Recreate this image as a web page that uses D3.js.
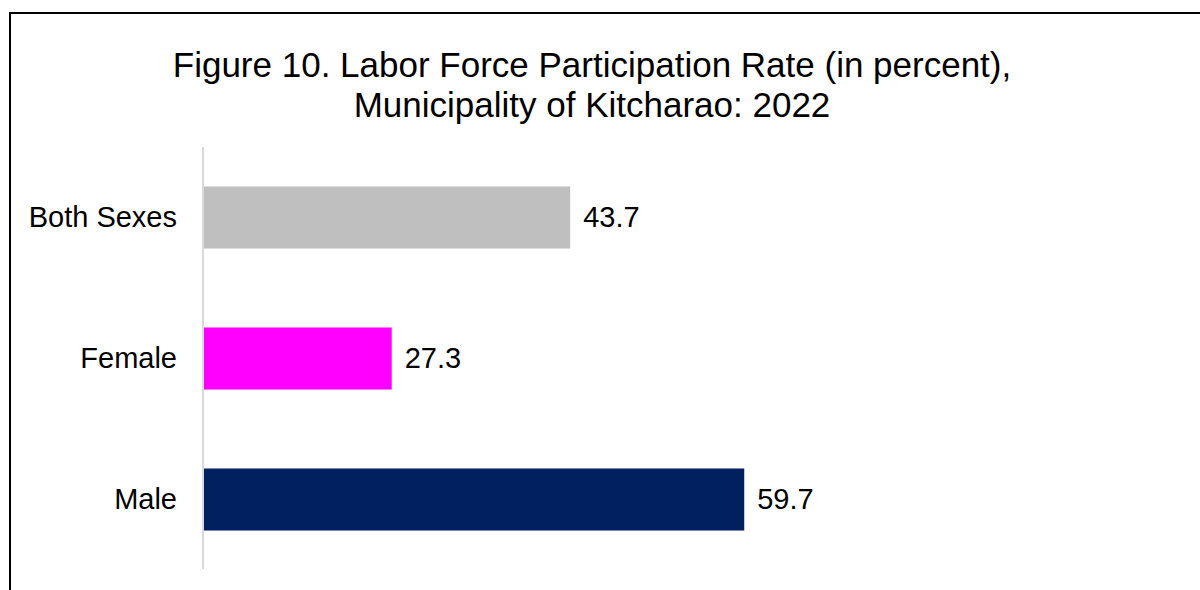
<!DOCTYPE html>
<html>
<head>
<meta charset="utf-8">
<script src="https://cdn.jsdelivr.net/npm/d3@7"></script>
<style>
  body { margin: 0; background: #fff; }
  text { font-family: "Liberation Sans", Arial, sans-serif; fill: #000; }
</style>
</head>
<body>
<div id="chart"></div>
<script>
// data
let categories = ["Both Sexes", "Female", "Male"];
let rates = [43.7, 27.3, 59.7];
let barColors = ["#bfbfbf", "#ff00ff", "#002060"];
let titleLines = [
  "Figure 10. Labor Force Participation Rate (in percent),",
  "Municipality of Kitcharao: 2022"
];
let xDomain = [10, 70];

let width = 1200;
let height = 590;

let svg = d3
  .select("#chart")
  .append("svg")
  .attr("width", width)
  .attr("height", height);

svg.append("rect").attr("width", width).attr("height", height).attr("fill", "#fff");

// chart area border (runs off the right and bottom edge)
svg
  .append("rect")
  .attr("x", 10)
  .attr("y", 13)
  .attr("width", 1220)
  .attr("height", 620)
  .attr("fill", "none")
  .attr("stroke", "#000")
  .attr("stroke-width", 2);

// title
svg
  .append("g")
  .selectAll("text")
  .data(titleLines)
  .enter()
  .append("text")
  .attr("x", 592)
  .attr("y", (d, i) => 77 + i * 40)
  .attr("text-anchor", "middle")
  .attr("font-size", 35)
  .text((d) => d);

let x = d3.scaleLinear().domain(xDomain).range([203.5, 203.5 + 60 * 10.88]);
let y = d3
  .scaleBand()
  .domain(categories)
  .range([147, 570])
  .paddingInner(0.56)
  .paddingOuter(0.28);

// bars
svg
  .selectAll("rect.bar")
  .data(categories)
  .enter()
  .append("rect")
  .attr("class", "bar")
  .attr("x", x(xDomain[0]))
  .attr("y", (d) => y(d))
  .attr("width", (d, i) => x(rates[i]) - x(xDomain[0]))
  .attr("height", y.bandwidth())
  .attr("fill", (d, i) => barColors[i]);

// vertical category axis
let yAxis = svg
  .append("g")
  .attr("transform", `translate(${x(xDomain[0]) - 0.5},0)`)
  .call(d3.axisLeft(y).tickSize(0).tickPadding(26));
yAxis.select(".domain").attr("stroke", "#d9d9d9").attr("stroke-width", 2).attr("d", "M0,147V569");
yAxis
  .selectAll("text")
  .attr("font-size", 29)
  .attr("font-family", '"Liberation Sans", Arial, sans-serif')
  .attr("fill", "#000")
  .attr("dy", "0.32em");

// value labels
svg
  .selectAll("text.value")
  .data(categories)
  .enter()
  .append("text")
  .attr("class", "value")
  .attr("x", (d, i) => x(rates[i]) + 13)
  .attr("y", (d) => y(d) + y.bandwidth() / 2)
  .attr("dy", "0.32em")
  .attr("font-size", 29)
  .text((d, i) => rates[i].toFixed(1));
</script>
</body>
</html>
